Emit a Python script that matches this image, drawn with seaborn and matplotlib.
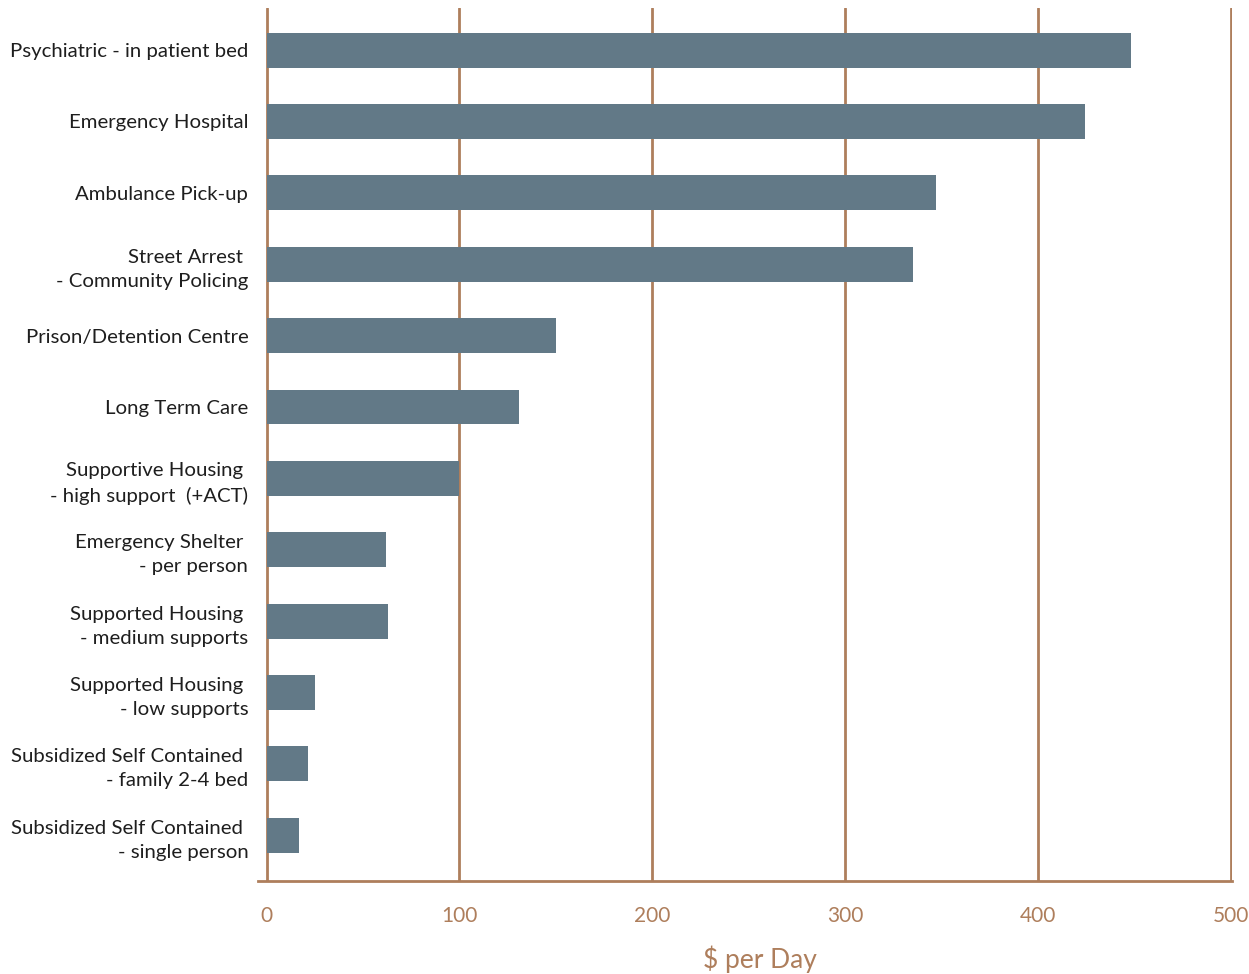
import matplotlib
matplotlib.use("Agg")
import matplotlib.pyplot as plt
import seaborn as sns
import pandas as pd

categories = [
    "Psychiatric - in patient bed",
    "Emergency Hospital",
    "Ambulance Pick-up",
    "Street Arrest \n- Community Policing",
    "Prison/Detention Centre",
    "Long Term Care",
    "Supportive Housing \n- high support  (+ACT)",
    "Emergency Shelter \n- per person",
    "Supported Housing \n- medium supports",
    "Supported Housing \n- low supports",
    "Subsidized Self Contained \n- family 2-4 bed",
    "Subsidized Self Contained \n- single person",
]
cost_per_day = [448, 424, 347, 335, 150, 131, 100, 62, 63, 25, 21.5, 17]
ticks = [0, 100, 200, 300, 400, 500]

brown = "#ae7e5c"
bar_col = "#627987"

sns.set_style("white")
plt.rcParams["font.family"] = ["Lato", "DejaVu Sans"]

df = pd.DataFrame({"cat": categories, "cost": cost_per_day})

fig = plt.figure(figsize=(12.49, 9.74), dpi=100)
ax = fig.add_axes([0.2066, 0.0955, 0.7800, 0.8963])

sns.barplot(data=df, x="cost", y="cat", orient="h", color=bar_col,
            saturation=1, width=0.49, linewidth=0, ax=ax)

ax.set_xlim(-4.4, 500.5)
ax.set_ylim(11.64, -0.59)
ax.set_xticks(ticks)
ax.set_axisbelow(True)
ax.grid(axis="x", color=brown, lw=2)
ax.grid(axis="y", visible=False)

for s in ["top", "right", "left"]:
    ax.spines[s].set_visible(False)
ax.spines["bottom"].set_color(brown)
ax.spines["bottom"].set_linewidth(2)

ax.tick_params(axis="x", colors=brown, length=9, width=2, direction="out",
               labelsize=15, pad=9)
ax.tick_params(axis="y", length=0, labelsize=14.7, pad=7, labelcolor="#1e1e1e")
for lab in ax.get_yticklabels():
    lab.set_horizontalalignment("right")
    lab.set_multialignment("right")
    lab.set_linespacing(1.5)

ax.set_ylabel("")
ax.set_xlabel("$ per Day", color=brown, fontsize=19, labelpad=14)
ax.xaxis.label.set_x(0.515)

fig.savefig("out.png", dpi=100)
